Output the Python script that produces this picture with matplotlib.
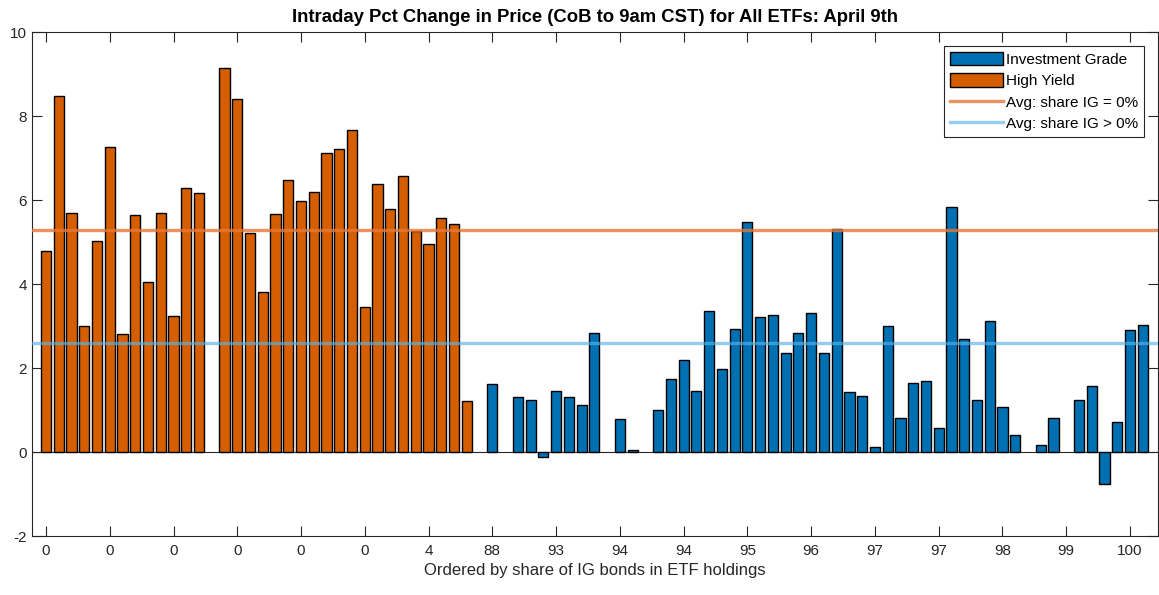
import numpy as np
import matplotlib
matplotlib.use("Agg")
import matplotlib.pyplot as plt

plt.rcParams["font.family"] = ["Liberation Sans", "DejaVu Sans"]
plt.rcParams["axes.unicode_minus"] = False

# High yield ETFs (positions 1-34), NaN = no bar
hy_pct = [4.79, 8.47, 5.70, 3.00, 5.02, 7.27, 2.81, 5.64, 4.04, 5.70,
          3.25, 6.29, 6.17, np.nan, 9.14, 8.41, 5.21, 3.82, 5.67, 6.47,
          5.98, 6.19, 7.12, 7.21, 7.67, 3.46, 6.38, 5.79, 6.57, 5.27,
          4.96, 5.58, 5.44, 1.22]
# Investment grade ETFs (positions 36-87)
ig_pct = [1.61, np.nan, 1.30, 1.24, -0.13, 1.46, 1.30, 1.12, 2.84, np.nan,
          0.79, 0.05, np.nan, 1.00, 1.74, 2.20, 1.46, 3.36, 1.98, 2.94,
          5.48, 3.21, 3.27, 2.35, 2.84, 3.30, 2.35, 5.30, 1.43, 1.33,
          0.13, 3.00, 0.81, 1.64, 1.70, 0.56, 5.83, 2.69, 1.25, 3.13,
          1.06, 0.41, np.nan, 0.17, 0.81, np.nan, 1.25, 1.58, -0.75, 0.71,
          2.90, 3.03]
share_ig_labels = ["0", "0", "0", "0", "0", "0", "4", "88", "93", "94",
                   "94", "95", "96", "97", "97", "98", "99", "100"]
avg_hy = 5.28
avg_ig = 2.60

hy_x = np.arange(1, len(hy_pct) + 1)
ig_x = np.arange(36, 36 + len(ig_pct))
n_total = 87

fig = plt.figure(figsize=(11.59, 5.95), dpi=100)
ax = fig.add_axes([32 / 1159, 1 - 536 / 595, 1126 / 1159, 504 / 595])

ax.axhline(0, color="0.15", lw=0.8, zorder=1)
b_ig = ax.bar(ig_x, ig_pct, width=0.8, color="#0070B2", edgecolor="black",
              linewidth=1.0, label="Investment Grade", zorder=2)
b_hy = ax.bar(hy_x, hy_pct, width=0.8, color="#D55E00", edgecolor="black",
              linewidth=1.0, label="High Yield", zorder=2)
l_hy = ax.axhline(avg_hy, color=(0.90, 0.47, 0.22), alpha=0.8, lw=2.4,
                  label="Avg: share IG = 0%", zorder=3)
l_ig = ax.axhline(avg_ig, color=(0.35, 0.70, 0.92), alpha=0.65, lw=2.4,
                  label="Avg: share IG > 0%", zorder=3)

ax.set_xlim(-0.1, 88.2)
ax.set_ylim(-2, 10)
ax.set_yticks(np.arange(-2, 11, 2))
ax.set_xticks(np.arange(1, n_total + 1, 5))
ax.set_xticklabels(share_ig_labels)
ax.tick_params(direction="in", length=7, width=0.8, colors="0.15",
               labelsize=11, top=True, right=True, labelcolor="0.15")
ax.tick_params(axis="x", pad=6)
for s in ax.spines.values():
    s.set_color("0.15")
    s.set_linewidth(0.8)

ax.set_title("Intraday Pct Change in Price (CoB to 9am CST) for All ETFs: April 9th",
             fontsize=13.3, fontweight="bold", color="black", pad=7)
ax.set_xlabel("Ordered by share of IG bonds in ETF holdings", fontsize=12,
              color="0.15", labelpad=3)

leg = ax.legend([b_ig, b_hy, l_hy, l_ig],
                ["Investment Grade", "High Yield", "Avg: share IG = 0%", "Avg: share IG > 0%"],
                loc="upper right", bbox_to_anchor=(0.9876, 0.9722),
                borderaxespad=0, fontsize=11, handlelength=3.5, handleheight=1.0,
                handletextpad=0.2, labelspacing=0.42, borderpad=0.38,
                fancybox=False, framealpha=1)
leg.get_frame().set_edgecolor("0.15")
leg.get_frame().set_linewidth(0.8)

fig.savefig("out.png", dpi=100)
